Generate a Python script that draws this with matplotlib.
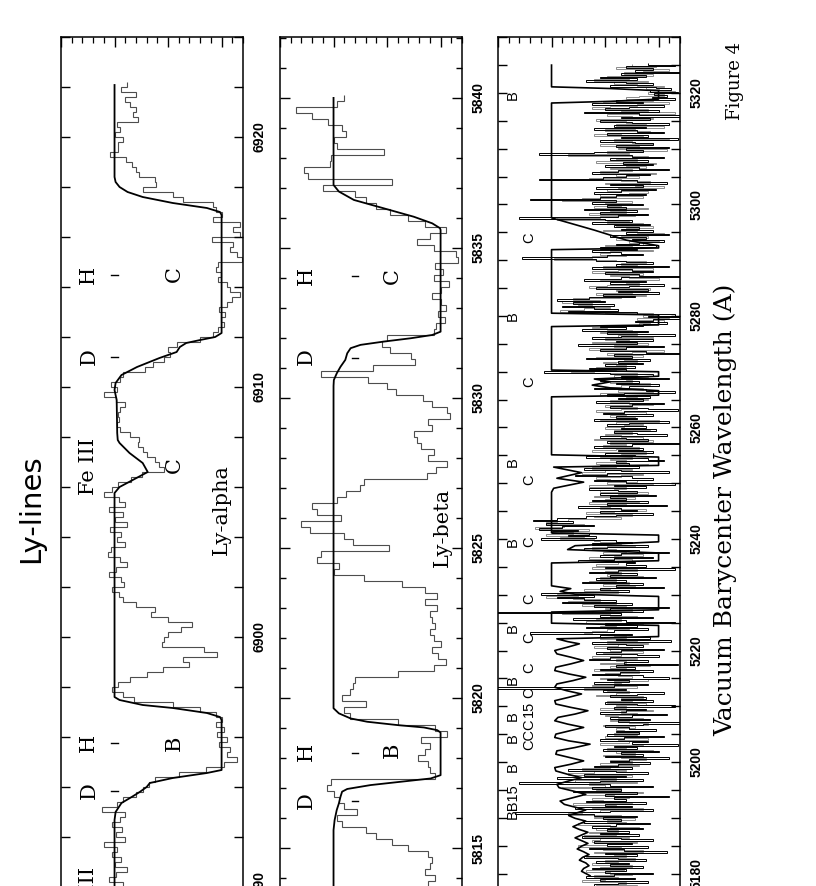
import numpy as np
import matplotlib.pyplot as plt
from matplotlib.ticker import MultipleLocator

# ---------------- Ly-alpha panel ----------------
lya_model_wave = [6922.08, 6918.40, 6918.20, 6918.00, 6917.80, 6917.60, 6917.36, 6917.16, 6917.00,
                  6916.88, 6912.16, 6912.00, 6911.88, 6911.76, 6911.60, 6911.40, 6911.16, 6910.80,
                  6910.48, 6910.16, 6909.88, 6909.48, 6908.16, 6907.88, 6907.76, 6907.36, 6906.96,
                  6906.60, 6906.28, 6906.00, 6905.76, 6897.60, 6897.48, 6897.28, 6897.16, 6896.96,
                  6896.80, 6896.68, 6894.68, 6894.56, 6894.36, 6894.16, 6894.00, 6893.80, 6893.60,
                  6893.36, 6893.00, 6892.68, 6889.40]
lya_model_flux = [1.0, 1.0, 0.99, 0.953, 0.878, 0.737, 0.456, 0.137, 0.015,
                  0.0, 0.0, 0.06, 0.20, 0.33, 0.39, 0.42, 0.58, 0.79,
                  0.935, 0.99, 1.0, 0.98, 0.975, 0.97, 0.953, 0.86, 0.737,
                  0.69, 0.83, 0.953, 1.0, 1.0, 0.953, 0.737, 0.456, 0.137,
                  0.015, 0.0, 0.0, 0.137, 0.456, 0.67, 0.70, 0.765, 0.84,
                  0.935, 0.99, 1.0, 1.0]
lya_start, lya_step = 6922.1, 0.2
lya_flux = [0.88, 0.94, 0.80, 0.90, 0.86, 0.80, 0.83, 0.78, 0.98, 0.95,
            1.00, 0.92, 0.97, 0.97, 1.04, 0.89, 0.84, 0.80, 0.77, 0.62,
            0.61, 0.73, 0.45, 0.36, 0.08, 0.05, 0.00, 0.08, -0.17, -0.11,
            -0.17, 0.09, -0.11, -0.08, -0.14, -0.19, 0.03, 0.05, 0.01, 0.03,
            -0.05, -0.08, -0.17, -0.10, -0.05, 0.02, -0.03, 0.01, -0.02, 0.03,
            0.08, 0.20, 0.42, 0.50, 0.48, 0.54, 0.64, 0.72, 0.92, 0.95,
            1.03, 0.98, 1.10, 0.99, 0.90, 0.95, 0.97, 0.96, 0.98, 0.95,
            0.86, 0.77, 0.78, 0.73, 0.70, 0.62, 0.58, 0.54, 0.74, 0.85,
            0.97, 1.02, 1.10, 0.96, 0.90, 1.05, 0.92, 1.00, 0.88, 1.04,
            0.94, 0.98, 0.90, 1.03, 1.06, 0.95, 0.88, 0.99, 1.05, 0.94,
            0.91, 1.02, 0.96, 0.92, 0.80, 0.62, 0.66, 0.50, 0.28, 0.38,
            0.50, 0.54, 0.56, 0.16, 0.04, 0.36, 0.30, 0.55, 0.70, 0.86,
            0.97, 1.02, 0.92, 0.82, 0.45, 0.20, 0.05, 0.00, 0.05, -0.02,
            0.04, -0.05, 0.02, -0.08, -0.05, -0.14, -0.02, 0.15, 0.40, 0.62,
            0.68, 0.73, 0.80, 0.92, 0.98, 1.12, 0.90, 0.95, 1.02, 0.93,
            0.99, 0.90, 1.10, 0.98, 1.02, 0.94, 1.00, 0.88, 0.99, 1.05,
            0.92, 1.00]
lya_labels = [("H", 1.24, 6914.48), ("C", 0.44, 6914.5), ("D", 1.24, 6911.2),
              ("Fe III", 1.24, 6906.84), ("C", 0.44, 6906.88), ("H", 1.24, 6895.76),
              ("B", 0.44, 6895.76), ("D", 1.24, 6893.84)]
lya_marks = [6914.48, 6911.21, 6895.75, 6893.84]

# ---------------- Ly-beta panel ----------------
lyb_model_wave = [5840.0, 5837.1, 5836.88, 5836.6, 5836.32, 5836.04, 5835.82, 5835.66, 5835.6,
                  5832.21, 5832.1, 5831.99, 5831.88, 5831.77, 5831.66, 5831.49, 5831.27, 5831.04,
                  5830.82, 5830.6, 5830.4, 5819.66, 5819.49, 5819.32, 5819.21, 5819.1, 5819.02,
                  5818.93, 5818.85, 5817.43, 5817.32, 5817.21, 5817.1, 5816.97, 5816.88, 5816.71,
                  5816.49, 5816.27, 5815.93, 5815.6, 5813.2]
lyb_model_flux = [1.0, 1.0, 0.95, 0.81, 0.53, 0.25, 0.078, 0.006, 0.0,
                  0.0, 0.078, 0.28, 0.53, 0.748, 0.84, 0.872, 0.89, 0.935,
                  0.97, 0.997, 1.0, 1.0, 0.95, 0.84, 0.685, 0.405, 0.156,
                  0.031, 0.0, 0.0, 0.093, 0.374, 0.654, 0.872, 0.92, 0.935,
                  0.95, 0.97, 0.99, 1.0, 1.0]
lyb_start, lyb_step = 5840.0, 0.2
lyb_flux = [0.90, 0.97, 1.35, 1.20, 1.05, 0.92, 0.88, 1.00, 0.97, 0.53,
            1.02, 1.03, 1.28, 1.24, 0.45, 1.10, 0.80, 0.70, 0.60, 0.47,
            0.30, 0.15, -0.05, 0.10, 0.22, 0.06, -0.14, -0.16, 0.05, -0.02,
            0.06, -0.08, 0.00, 0.08, 0.00, -0.05, 0.02, -0.04, 0.04, 0.06,
            0.50, 0.55, 0.47, 0.28, 0.24, 0.63, 1.12, 0.68, 0.50, 0.42,
            0.16, 0.08, -0.06, -0.09, 0.12, 0.08, 0.25, 0.22, 0.18, 0.06,
            0.12, -0.06, 0.04, 0.13, 0.72, 0.75, 0.88, 0.97, 1.20, 1.15,
            0.93, 1.30, 1.22, 0.90, 0.82, 0.48, 1.12, 1.15, 0.95, 1.00,
            0.72, 0.36, 0.15, 0.03, 0.15, 0.03, 0.10, 0.08, 0.05, 0.10,
            0.06, 0.00, 0.08, 0.02, -0.05, 0.06, 0.40, 0.80, 0.82, 0.85,
            0.92, 0.70, 0.90, 0.85, 0.40, 0.05, -0.06, 0.18, 0.10, 0.15,
            0.21, 0.12, 0.10, 0.05, 1.02, 1.06, 1.00, 0.95, 0.90, 0.78,
            0.97, 0.92, 0.70, 0.60, 0.45, 0.30, 0.12, 0.08, 0.10, 0.15,
            0.05, 0.12]
lyb_labels = [("H", 1.25, 5834.07), ("C", 0.45, 5834.07), ("D", 1.25, 5831.37),
              ("H", 1.25, 5818.2), ("B", 0.45, 5818.27), ("D", 1.25, 5816.6)]
lyb_marks = [5834.07, 5831.33, 5818.17, 5816.58]

# ---------------- wide panel (5180-5320) ----------------
wide_model_wave = [5325.0, 5321.1, 5320.8, 5320.4, 5318.9, 5318.5, 5318.2,
                   5297.6, 5296.5, 5295.4, 5294.5, 5293.6, 5292.6, 5292.2, 5291.9,
                   5280.5, 5280.2, 5278.4, 5278.1,
                   5270.3, 5270.0, 5269.2, 5268.7, 5268.2, 5267.6, 5267.1, 5266.6, 5265.8, 5265.5,
                   5255.1, 5254.7, 5253.2, 5252.9, 5251.9, 5250.9, 5250.2, 5249.1, 5248.4,
                   5241.1, 5240.7, 5239.5, 5238.8, 5238.1, 5237.5, 5236.1, 5235.7,
                   5231.6, 5231.1, 5230.6, 5230.1, 5229.7, 5227.3, 5226.9,
                   5224.9, 5224.5, 5222.5, 5222.1,
                   5221.6, 5221.2, 5220.6, 5220.0, 5219.4, 5218.8, 5218.2, 5217.6, 5217.0, 5216.4,
                   5215.8, 5215.2, 5214.6, 5214.0, 5213.4, 5212.8, 5212.2, 5211.6, 5211.0, 5210.4,
                   5209.8, 5209.2, 5208.6, 5208.0, 5207.4, 5206.8, 5206.2, 5205.6, 5205.0, 5204.4,
                   5203.8, 5203.2, 5202.6, 5202.0, 5201.4, 5200.8, 5200.2, 5199.6, 5199.0, 5198.4,
                   5197.8, 5197.2, 5196.6, 5196.0, 5195.4, 5194.8, 5194.2, 5193.6, 5193.0, 5192.4,
                   5191.9, 5191.4, 5190.9, 5190.4, 5189.9, 5189.4, 5188.9, 5188.4, 5187.9, 5187.4,
                   5186.9, 5186.4, 5185.9, 5185.4, 5184.9, 5184.4, 5183.9, 5183.4, 5182.9, 5182.4,
                   5181.9, 5181.4, 5180.9, 5180.4, 5179.9, 5179.6]
wide_model_flux = [1.0, 1.0, 0.45, 0.0, 0.0, 0.45, 1.0,
                   1.0, 0.8, 0.6, 0.45, 0.3, 0.0, 0.0, 1.0,
                   1.0, 0.0, 0.0, 1.0,
                   1.0, 0.0, 0.0, 0.6, 0.45, 0.62, 0.45, 0.0, 0.0, 1.0,
                   1.0, 0.0, 0.0, 0.98, 0.72, 0.95, 0.70, 0.98, 1.0,
                   1.0, 0.0, 0.0, 0.78, 0.85, 0.0, 0.0, 1.0,
                   1.0, 0.82, 0.92, 0.78, 0.0, 0.0, 1.0,
                   1.0, 0.0, 0.0, 0.95,
                   0.85, 0.74, 0.85, 0.97, 0.95, 0.82, 0.70, 0.82, 0.96, 0.97,
                   0.84, 0.68, 0.80, 0.95, 0.97, 0.86, 0.72, 0.84, 0.97, 0.96,
                   0.82, 0.66, 0.78, 0.94, 0.97, 0.85, 0.70, 0.83, 0.96, 0.97,
                   0.84, 0.64, 0.78, 0.95, 0.96, 0.83, 0.70, 0.82, 0.97, 0.96,
                   0.85, 0.72, 0.84, 0.95, 0.93, 0.80, 0.68, 0.80, 0.92, 0.88,
                   0.78, 0.68, 0.76, 0.84, 0.78, 0.68, 0.74, 0.80, 0.74, 0.66,
                   0.72, 0.78, 0.72, 0.66, 0.72, 0.76, 0.70, 0.65, 0.71, 0.74,
                   0.68, 0.65, 0.70, 0.72, 0.67, 0.64]
wide_start, wide_step = 5325.2, 0.3
wide_black = [
    0.10, -0.15, 0.30, 0.05, 0.22, -0.20, 0.35, 0.12, 0.55, 0.20, 0.68, 0.30, 0.05, 0.45, 0.02, -0.12, 0.08, -0.18, 0.04, -0.08,
    0.06, -0.15, 0.40, 0.15, 0.62, -0.05, 0.28, 0.50, 0.00, 0.70, 0.18, -0.20, 0.35, 0.08, 0.55, 0.25, -0.10, 0.42, 0.12, 0.60,
    0.20, -0.05, 0.48, 0.10, 0.35, -0.18, 0.55, 0.22, 0.05, 0.40, -0.10, 0.30, 0.15, 0.60, 1.12, 0.25, -0.05, 0.45, 0.10, 0.33,
    0.05, 0.50, 0.18, -0.10, 0.38, 0.62, 0.08, 0.30, 0.52, 1.12, 0.20, -0.08, 0.45, 0.15, 0.58, 0.02, 0.35, 0.60, 0.12, 0.40,
    0.55, 1.20, 0.40, 0.62, 0.15, 0.48, 0.30, 0.70, 0.20, 0.55, 0.10, 0.38, 1.30, 0.50, 0.25, 0.62, 0.08, 0.42, 0.18, 0.35,
    0.05, 0.30, -0.10, 0.45, 0.12, 0.25, -0.05, 0.18, 0.40, 0.02, 0.55, 0.20, 0.62, 0.35, 0.15, 0.48, 1.28, 0.58, 0.30, 0.05,
    0.40, -0.10, 0.62, 0.25, 0.05, 0.50, 0.18, -0.20, 0.35, 0.70, 0.12, 0.45, -0.05, 0.28, 0.58, 0.10, 0.38, 0.00, 0.52, 0.22,
    0.65, 0.95, 0.50, 0.80, 0.42, 0.90, 0.60, 0.38, 0.85, 0.20, -0.15, 0.10, -0.20, 0.05, 0.22, -0.08, 0.15, 0.55, 0.30, 0.72,
    0.10, 0.48, -0.15, 0.35, 0.62, 0.05, 0.40, 0.20, 0.75, -0.05, 0.30, 0.55, 0.12, -0.20, 0.42, 0.25, 0.68, 0.08, 0.38, 0.15,
    0.50, 0.22, 0.65, 0.30, 1.07, 0.45, 0.05, 0.35, -0.10, 0.55, 0.18, 0.40, 0.00, 0.28, 0.60, 0.12, -0.15, 0.32, 0.48, 0.08,
    0.38, 0.15, 0.58, -0.05, 0.25, 0.45, 0.10, -0.18, 0.32, 0.52, 0.05, 0.40, 0.20, 0.60, -0.10, 0.28, 0.48, 0.12, 0.35, 0.02,
    0.42, 0.20, -0.08, 0.55, 0.30, 0.10, 0.48, -0.20, 0.25, 0.60, 0.15, 0.38, 0.05, 0.50, 0.22, 0.68, 0.10, -0.05, 0.40, 0.28,
    0.55, 0.18, 0.70, 0.35, -0.10, 0.48, 0.78, 0.25, 0.05, 0.60, 0.30, -0.15, 0.42, 0.12, 0.65, 0.38, 0.20, 0.55, 0.02, 0.45,
    0.30, 0.62, 0.10, 0.48, -0.08, 0.75, 0.35, 0.20, 0.55, 0.05, 0.40, 0.68, 0.95, 1.17, 0.80, 1.05, 0.60, 0.90, 1.12, 0.75,
    1.00, 0.65, 0.85, 0.58, 1.10, 0.40, 0.25, 0.62, 0.10, 0.48, 0.70, 0.18, -0.10, 0.35, 0.55, 0.05, 0.42, 0.75, 0.22, 0.30,
    0.12, 0.50, -0.15, 0.38, 0.65, 0.20, 0.45, 0.02, 0.58, 0.30, 0.72, 0.15, 0.40, -0.05, 0.55, 0.28, 0.85, 1.10, 0.60, 0.95,
    0.70, 0.40, 0.90, 0.25, 0.60, -0.10, 0.45, 0.15, 1.65, 0.35, 0.55, 0.05, 0.80, 0.30, -0.15, 0.50, 0.20, 0.68, 0.10, 0.42,
    1.20, 0.25, 0.55, 0.08, 0.40, -0.12, 0.62, 0.30, 0.15, 0.48, -0.05, 0.35, 0.58, 0.20, 0.00, 0.45, 0.65, 0.10, 0.32, -0.18,
    0.40, 0.22, 0.55, 0.05, 0.36, 0.62, 0.15, -0.10, 0.48, 0.28, 0.60, 0.10, 0.42, 1.65, 0.30, 0.52, -0.05, 0.20, 0.45, 0.12,
    0.35, 0.05, 0.50, 0.20, -0.15, 0.42, 0.12, 0.30, 0.55, -0.08, 0.25, 0.45, 0.08, 0.38, -0.20, 0.15, 0.50, 0.28, 0.02, 0.40,
    0.18, 0.48, -0.05, 0.32, 0.55, 0.10, 0.25, -0.18, 0.42, 0.20, 0.52, 0.00, 0.35, 0.15, 0.50, -0.10, 0.28, 0.45, 0.08, 0.38,
    0.60, 0.25, 0.85, 0.40, 0.10, 0.70, 0.30, 0.95, 0.15, 0.55, 1.30, 0.45, 0.05, 0.62, 0.35, 0.80, 0.20, 0.50, -0.10, 0.42,
    0.30, 0.68, 0.12, 0.50, 0.25, 0.78, 0.05, 0.45, 1.34, 0.60, 0.20, 0.52, 0.35, 0.70, 0.08, 0.40, 0.62, 0.15, 0.48, 0.28,
    0.55, 0.18, 0.72, 0.35, 0.05, 0.60, 0.25, 0.48, 0.10, 0.65, 0.32, -0.08, 0.50, 0.20, 0.70, 0.38, 0.12, 0.58, 0.28, 0.45,
    0.15, 0.62, 0.30, 0.50, 0.05, 0.42, 0.68, 0.22, 0.55, 0.10, 0.38, 0.60, 0.18, 0.45, 0.25, 0.52, 0.08, 0.40, 0.30, 0.50]
wide_gray = [
    0.25, 0.02, 0.40, -0.10, 0.15, 0.32, 0.05, 0.48, 0.28, 0.60, 0.10, 0.42, 0.20, -0.05, 0.12, 0.00, -0.15, 0.10, -0.05, 0.18,
    0.30, 0.05, 0.52, -0.10, 0.20, 0.45, 0.62, 0.10, 0.35, -0.15, 0.48, 0.25, 0.05, 0.58, 0.30, 0.12, 0.40, -0.05, 0.22, 0.50,
    0.08, 0.35, 0.60, 0.15, -0.10, 0.42, 0.25, 0.05, 0.55, 0.18, 0.38, -0.08, 0.48, 0.28, 0.85, 0.10, 0.40, 0.20, 0.58, 0.02,
    0.30, 0.12, 0.45, 0.25, 0.55, 0.02, 0.40, 0.18, 0.65, 0.35, 0.08, 0.50, 0.22, -0.05, 0.38, 0.48, 0.10, 0.28, 0.55, 0.15,
    0.72, 0.90, 0.25, 0.50, 0.35, 0.60, 0.10, 0.45, 0.30, 0.65, 0.22, 0.55, 0.95, 0.28, 0.48, 0.15, 0.40, 0.05, 0.30, 0.52,
    0.20, -0.05, 0.35, 0.10, 0.40, 0.00, 0.28, 0.15, 0.50, 0.25, 0.35, 0.05, 0.45, 0.55, 0.30, 0.62, 0.98, 0.40, 0.12, 0.35,
    0.20, 0.52, 0.05, 0.38, 0.62, 0.15, 0.45, 0.28, 0.00, 0.55, 0.30, 0.18, 0.48, 0.65, 0.08, 0.40, 0.25, 0.58, 0.12, 0.35,
    0.80, 0.55, 0.90, 0.62, 0.75, 0.45, 0.70, 0.92, 0.50, 0.05, 0.15, -0.10, 0.20, -0.05, 0.08, 0.18, 0.30, 0.62, 0.48, 0.25,
    0.55, 0.20, 0.38, 0.05, 0.50, 0.28, 0.62, 0.10, 0.42, 0.30, 0.65, -0.05, 0.25, 0.48, 0.15, 0.58, 0.32, 0.20, 0.52, 0.40,
    0.30, 0.58, 0.40, 0.82, 0.60, 0.20, 0.42, 0.10, 0.30, 0.25, 0.45, 0.08, 0.35, 0.50, 0.15, 0.38, 0.05, 0.55, 0.20, 0.30,
    0.10, 0.45, 0.28, 0.05, 0.50, 0.20, 0.35, 0.58, 0.12, 0.30, 0.45, 0.22, 0.55, 0.00, 0.40, 0.15, 0.32, 0.50, 0.08, 0.42,
    0.25, 0.50, 0.35, 0.15, 0.60, 0.05, 0.45, 0.30, 0.52, 0.18, 0.40, 0.62, 0.12, 0.35, 0.55, 0.25, 0.45, 0.30, 0.58, 0.10,
    0.40, 0.62, 0.25, 0.50, 0.72, 0.15, 0.35, 0.58, 0.45, 0.20, 0.48, 0.05, 0.65, 0.30, 0.42, 0.55, 0.10, 0.38, 0.60, 0.22,
    0.50, 0.18, 0.65, 0.30, 0.45, 0.55, 0.12, 0.42, 0.68, 0.25, 0.60, 0.35, 0.85, 0.95, 1.05, 0.70, 0.88, 1.15, 0.65, 0.92,
    0.80, 1.05, 0.70, 0.92, 0.60, 0.55, 0.35, 0.48, 0.22, 0.62, 0.40, 0.30, 0.52, 0.15, 0.42, 0.65, 0.25, 0.50, 0.38, 0.58,
    0.30, 0.62, 0.20, 0.50, 0.35, 0.48, 0.15, 0.55, 0.40, 0.65, 0.28, 0.52, 0.22, 0.45, 0.70, 0.38, 0.95, 0.75, 1.05, 0.80,
    0.55, 0.85, 0.40, 0.72, 0.30, 0.50, 0.25, 0.62, 0.90, 0.45, 0.20, 0.58, 0.35, 0.68, 0.15, 0.40, 0.55, 0.28, 0.48, 0.62,
    0.70, 0.42, 0.30, 0.55, 0.20, 0.48, 0.10, 0.38, 0.60, 0.25, 0.45, 0.15, 0.52, 0.35, 0.62, 0.20, 0.40, 0.30, 0.55, 0.08,
    0.45, 0.30, 0.60, 0.18, 0.50, 0.38, 0.25, 0.55, 0.10, 0.42, 0.35, 0.62, 0.20, 0.70, 0.48, 0.28, 0.40, 0.58, 0.15, 0.35,
    0.25, 0.48, 0.12, 0.40, 0.30, 0.55, 0.05, 0.35, 0.20, 0.50, 0.38, 0.15, 0.45, 0.28, 0.10, 0.52, 0.22, 0.40, 0.32, 0.18,
    0.42, 0.20, 0.50, 0.10, 0.38, 0.28, 0.55, 0.15, 0.30, 0.48, 0.05, 0.40, 0.22, 0.52, 0.35, 0.12, 0.45, 0.25, 0.55, 0.18,
    0.45, 0.72, 0.30, 0.60, 0.85, 0.25, 0.55, 0.40, 0.78, 0.20, 0.65, 0.50, 0.90, 0.35, 0.58, 0.15, 0.70, 0.42, 0.28, 0.62,
    0.52, 0.25, 0.80, 0.40, 0.62, 0.15, 0.55, 0.72, 0.85, 0.35, 0.60, 0.22, 0.48, 0.30, 0.75, 0.45, 0.18, 0.58, 0.38, 0.65,
    0.40, 0.70, 0.28, 0.55, 0.62, 0.20, 0.48, 0.75, 0.35, 0.52, 0.15, 0.60, 0.42, 0.30, 0.68, 0.22, 0.50, 0.38, 0.62, 0.25,
    0.55, 0.32, 0.68, 0.45, 0.25, 0.60, 0.38, 0.50, 0.72, 0.30, 0.58, 0.20, 0.48, 0.62, 0.35, 0.55, 0.28, 0.45, 0.60, 0.40]
wide_labels = [("B", 1.36, 5319.64), ("B", 1.36, 5280.0), ("B", 1.36, 5253.8),
               ("B", 1.36, 5239.5), ("B", 1.36, 5224.0), ("B", 1.36, 5214.7),
               ("B", 1.36, 5208.2), ("B", 1.36, 5204.3), ("B", 1.36, 5199.1),
               ("BB15", 1.36, 5193.0),
               ("C", 1.21, 5294.0), ("C", 1.21, 5268.2), ("C", 1.21, 5250.6),
               ("C", 1.21, 5239.5), ("C", 1.21, 5229.2), ("C", 1.21, 5222.2),
               ("C", 1.21, 5216.9), ("C", 1.21, 5212.4), ("15", 1.21, 5209.5),
               ("CCC", 1.21, 5205.0)]

FIG_W, FIG_H = 816, 886
SERIF = "DejaVu Serif"
SANS = "Liberation Sans"


def stairs_from(ax, start, step, flux, color, lw):
    # histogram spectrum, bins listed from red to blue
    flux = np.asarray(flux)[::-1]
    n = len(flux)
    edges = start - step * (n - 0.5) + step * np.arange(n + 1)
    ax.stairs(flux, edges, orientation="horizontal", baseline=None, color=color, lw=lw)


def make_panel(left_px, wave_top, wave_bottom, major, minor, label_step):
    ax = fig.add_axes([left_px / FIG_W, 1 - 900 / FIG_H, 182 / FIG_W, (900 - 37) / FIG_H])
    ax.set_xlim(1.5, -0.2)
    ax.set_ylim(wave_bottom, wave_top)
    for s in ax.spines.values():
        s.set_linewidth(1.1)
    ax.xaxis.set_ticks_position("top")
    ax.xaxis.set_major_locator(MultipleLocator(0.5))
    ax.xaxis.set_minor_locator(MultipleLocator(0.1))
    ax.tick_params(axis="x", which="major", direction="in", length=7, width=1.0, labeltop=False)
    ax.tick_params(axis="x", which="minor", direction="in", length=4.5, width=0.9)
    ax.yaxis.set_ticks_position("both")
    ax.yaxis.set_major_locator(MultipleLocator(major))
    if minor:
        ax.yaxis.set_minor_locator(MultipleLocator(minor))
    ax.tick_params(axis="y", which="major", direction="in", length=7 if minor else 6.5, width=1.0,
                   labelleft=False, labelright=True, labelrotation=90, pad=7)
    ax.tick_params(axis="y", which="minor", direction="in", length=4, width=1.0)
    ax.yaxis.set_major_formatter(
        plt.FuncFormatter(lambda v, p: f"{v:.0f}" if abs(v / label_step - round(v / label_step)) < 1e-6 else ""))
    for t in ax.get_yticklabels():
        t.set_fontfamily(SANS)
        t.set_fontweight("bold")
        t.set_fontsize(10)
        t.set_va("center")
    return ax


fig = plt.figure(figsize=(FIG_W / 100, FIG_H / 100), dpi=100)

# Ly-alpha
ax1 = make_panel(61, 6924.0, 6889.48, 2, None, 10)
stairs_from(ax1, lya_start, lya_step, lya_flux, "0.3", 0.8)
ax1.plot(lya_model_flux, lya_model_wave, color="black", lw=1.3)
for txt, f, w in lya_labels:
    ax1.text(f, w, txt, rotation=90, ha="center", va="center", fontsize=15, family=SERIF)
ax1.text(1.24, 6890.8, "Fe III", rotation=90, ha="center", va="top", fontsize=15, family=SERIF)
for w in lya_marks:
    ax1.plot([1.03, 0.97], [w, w], color="black", lw=1.0)
ax1.text(0.0, 6905.08, "Ly-alpha", rotation=90, ha="center", va="center", fontsize=15, family=SERIF)

# Ly-beta
ax2 = make_panel(280, 5842.03, 5813.27, 5, 1, 5)
stairs_from(ax2, lyb_start, lyb_step, lyb_flux, "0.3", 0.8)
ax2.plot(lyb_model_flux, lyb_model_wave, color="black", lw=1.3)
for txt, f, w in lyb_labels:
    ax2.text(f, w, txt, rotation=90, ha="center", va="center", fontsize=15, family=SERIF)
for w in lyb_marks:
    ax2.plot([0.825, 0.775], [w, w], color="black", lw=1.0)
ax2.text(-0.014, 5825.7, "Ly-beta", rotation=90, ha="center", va="center", fontsize=15, family=SERIF)

# wide range
ax3 = make_panel(498, 5330.04, 5175.25, 5, None, 20)
stairs_from(ax3, wide_start - 0.15, wide_step, wide_gray, "0.55", 0.7)
stairs_from(ax3, wide_start, wide_step, wide_black, "black", 0.7)
ax3.plot(wide_model_flux, wide_model_wave, color="black", lw=1.2)
for txt, f, w in wide_labels:
    ax3.text(f, w, txt, rotation=90, ha="center", va="center", fontsize=10.5, family=SANS)

fig.text(31 / FIG_W, 1 - 509 / FIG_H, "Ly-lines", rotation=90, ha="center", va="center",
         fontsize=21, family="DejaVu Sans")
fig.text(725 / FIG_W, 1 - 510 / FIG_H, "Vacuum Barycenter Wavelength (A)", rotation=90,
         ha="center", va="center", fontsize=18, family=SERIF)
fig.text(735 / FIG_W, 1 - 81 / FIG_H, "Figure 4", rotation=90, ha="center", va="center",
         fontsize=13, family=SERIF)

fig.savefig("out.png", dpi=100)
